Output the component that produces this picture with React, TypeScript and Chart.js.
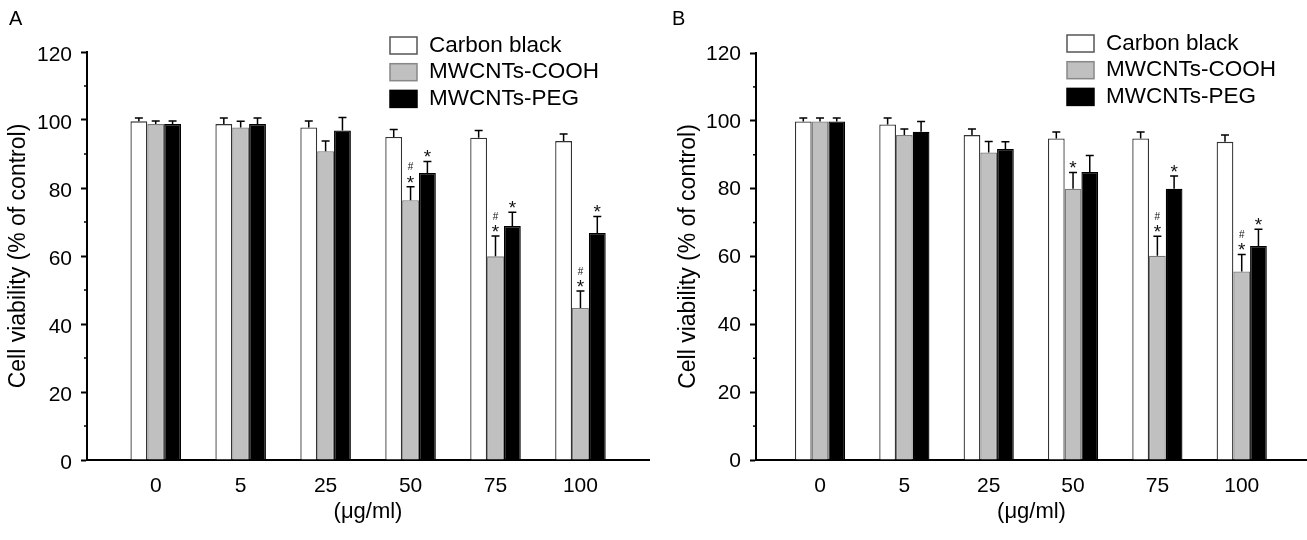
import React, { useEffect, useRef } from 'react';
import { Chart, registerables } from 'chart.js';

Chart.register(...registerables);

const FONT = "'Liberation Sans', Arial, Helvetica, sans-serif";

// ---- data ----
const categories = ['0', '5', '25', '50', '75', '100'];
const seriesNames = ['Carbon black', 'MWCNTs-COOH', 'MWCNTs-PEG'];
const yTickValues = [0, 10, 20, 30, 40, 50, 60, 70, 80, 90, 100, 110, 120];

// Panel A
const aCarbon = [99.6, 98.8, 97.8, 95.0, 94.8, 93.8];
const aCarbonErr = [1.0, 1.8, 1.9, 2.2, 2.1, 2.1];
const aCooh = [98.8, 97.8, 90.8, 76.4, 59.9, 44.7];
const aCoohErr = [0.9, 1.8, 3.0, 4.0, 6.0, 5.0];
const aPeg = [98.8, 98.8, 96.9, 84.4, 68.8, 66.8];
const aPegErr = [0.9, 1.8, 3.8, 3.4, 4.1, 4.8];
const aCoohSig = ['', '', '', '#*', '#*', '#*'];
const aPegSig = ['', '', '', '*', '*', '*'];

// Panel B
const bCarbon = [99.8, 98.9, 95.8, 94.8, 94.8, 93.8];
const bCarbonErr = [1.0, 1.9, 1.8, 1.9, 1.9, 2.0];
const bCooh = [99.8, 95.8, 90.7, 80.0, 60.2, 55.6];
const bCoohErr = [1.0, 1.8, 3.2, 4.8, 5.8, 5.0];
const bPeg = [99.8, 96.8, 91.7, 84.9, 80.0, 63.1];
const bPegErr = [1.0, 3.0, 2.1, 4.9, 3.7, 4.9];
const bCoohSig = ['', '', '', '*', '#*', '#*'];
const bPegSig = ['', '', '', '', '*', '*'];

type PanelSpec = {
  letter: string;
  left: number;
  width: number;
  padLeft: number;
  padRight: number;
  padTop: number;
  yWidth: number;
  xMin: number;
  xMax: number;
  labelOffset: number;
  legendX: number;
  legendY: number;
  letterX: number;
  carbon: number[]; carbonErr: number[];
  cooh: number[]; coohErr: number[]; coohSig: string[];
  peg: number[]; pegErr: number[]; pegSig: string[];
};

const panelA: PanelSpec = {
  letter: 'A', left: 0, width: 660, padLeft: 0, padRight: 11, padTop: 52, yWidth: 87,
  xMin: -0.809, xMax: 5.807, labelOffset: 3, legendX: 390, legendY: 37, letterX: 9,
  carbon: aCarbon, carbonErr: aCarbonErr, cooh: aCooh, coohErr: aCoohErr, coohSig: aCoohSig,
  peg: aPeg, pegErr: aPegErr, pegSig: aPegSig,
};

const panelB: PanelSpec = {
  letter: 'B', left: 660, width: 647, padLeft: 10, padRight: 0, padTop: 53, yWidth: 86,
  xMin: -0.759, xMax: 5.774, labelOffset: 1, legendX: 407, legendY: 35, letterX: 12,
  carbon: bCarbon, carbonErr: bCarbonErr, cooh: bCooh, coohErr: bCoohErr, coohSig: bCoohSig,
  peg: bPeg, pegErr: bPegErr, pegSig: bPegSig,
};

const seriesFill = ['#ffffff', '#c0c0c0', '#000000'];
const seriesBorder = ['#333333', '#7a7a7a', '#000000'];

function makeConfig(p: PanelSpec): any {
  const vals = [p.carbon, p.cooh, p.peg];
  const errs = [p.carbonErr, p.coohErr, p.pegErr];
  const sigs = [[], p.coohSig, p.pegSig];
  const datasets = vals.map((arr, d) => ({
    label: seriesNames[d],
    data: arr.map((v, i) => ({ x: i, y: v })),
    errors: errs[d],
    sig: sigs[d],
    backgroundColor: seriesFill[d],
    borderColor: seriesBorder[d],
    borderWidth: 1.3,
    borderSkipped: 'bottom',
    barPercentage: 1,
    categoryPercentage: 0.595,
  }));

  const extrasPlugin = {
    id: 'extras' + p.letter,
    afterDatasetsDraw(chart: any) {
      const ctx = chart.ctx;
      const yScale = chart.scales.y;
      chart.data.datasets.forEach((ds: any, d: number) => {
        const meta = chart.getDatasetMeta(d);
        meta.data.forEach((bar: any, i: number) => {
          const v = ds.data[i].y;
          const e = ds.errors[i];
          const yTop = yScale.getPixelForValue(v + e);
          ctx.save();
          ctx.strokeStyle = '#000';
          ctx.lineWidth = 1.5;
          ctx.beginPath();
          ctx.moveTo(bar.x, bar.y);
          ctx.lineTo(bar.x, yTop);
          ctx.moveTo(bar.x - 4, yTop);
          ctx.lineTo(bar.x + 4, yTop);
          ctx.stroke();
          const s = ds.sig[i] || '';
          ctx.fillStyle = '#111';
          ctx.textAlign = 'center';
          ctx.textBaseline = 'alphabetic';
          if (s.includes('*')) {
            ctx.font = `19px ${FONT}`;
            ctx.fillText('*', bar.x, yTop - 9 + 10.9);
          }
          if (s.includes('#')) {
            ctx.font = `10px ${FONT}`;
            ctx.fillText('#', bar.x, yTop - 20 + 3.6);
          }
          ctx.restore();
        });
      });
    },
    afterDraw(chart: any) {
      const ctx = chart.ctx;
      const yScale = chart.scales.y;
      ctx.save();
      // minor y ticks
      ctx.strokeStyle = '#000';
      ctx.lineWidth = 1.5;
      yScale.ticks.forEach((t: any) => {
        if (t.value % 20 !== 0) {
          const py = yScale.getPixelForValue(t.value);
          ctx.beginPath();
          ctx.moveTo(yScale.right - 3, py);
          ctx.lineTo(yScale.right, py);
          ctx.stroke();
        }
      });
      // legend
      const bw = 27, bh = 17, gap = 26.7;
      chart.data.datasets.forEach((ds: any, d: number) => {
        const by = p.legendY + d * gap;
        ctx.fillStyle = ds.backgroundColor;
        ctx.fillRect(p.legendX, by, bw, bh);
        ctx.strokeStyle = d === 0 ? '#555' : d === 1 ? '#888' : '#000';
        ctx.lineWidth = 1.5;
        ctx.strokeRect(p.legendX, by, bw, bh);
        ctx.fillStyle = '#000';
        ctx.font = `22.5px ${FONT}`;
        ctx.textAlign = 'left';
        ctx.textBaseline = 'middle';
        ctx.fillText(ds.label, p.legendX + 39, by + bh / 2);
      });
      // panel letter
      ctx.font = `20px ${FONT}`;
      ctx.textAlign = 'left';
      ctx.textBaseline = 'alphabetic';
      ctx.fillStyle = '#000';
      ctx.fillText(p.letter, p.letterX, 25);
      ctx.restore();
    },
  };

  return {
    type: 'bar',
    data: { datasets },
    options: {
      responsive: false,
      maintainAspectRatio: false,
      animation: false,
      events: [],
      devicePixelRatio: 1,
      layout: { padding: { left: p.padLeft, right: p.padRight, top: p.padTop, bottom: 0 } },
      plugins: { legend: { display: false }, tooltip: { enabled: false }, title: { display: false } },
      scales: {
        x: {
          type: 'linear',
          min: p.xMin,
          max: p.xMax,
          bounds: 'data',
          offset: false,
          afterBuildTicks: (s: any) => { s.ticks = categories.map((_, i) => ({ value: i })); },
          afterFit: (s: any) => { s.height = 80; },
          grid: { display: false, drawTicks: false },
          border: { display: true, color: '#000', width: 2 },
          ticks: {
            callback: (v: any) => categories[v] ?? '',
            font: { family: FONT, size: 21 },
            color: '#000',
            padding: 14,
            maxRotation: 0,
            autoSkip: false,
          },
          title: {
            display: true,
            text: '(\u03bcg/ml)',
            font: { family: FONT, size: 22 },
            color: '#000',
            padding: { top: 0, bottom: 15 },
          },
        },
        y: {
          type: 'linear',
          min: 0,
          max: 120,
          afterBuildTicks: (s: any) => { s.ticks = yTickValues.map((v) => ({ value: v })); },
          afterFit: (s: any) => { s.width = p.yWidth; },
          grid: {
            display: true,
            drawOnChartArea: false,
            drawTicks: true,
            tickLength: 6,
            tickWidth: 2,
            tickColor: (c: any) => (c.tick && c.tick.value % 20 === 0 ? '#000' : 'rgba(0,0,0,0)'),
          },
          border: { display: true, color: '#000', width: 2 },
          ticks: {
            callback: (v: any) => (v % 20 === 0 ? String(v) : ''),
            font: { family: FONT, size: 21 },
            color: '#000',
            padding: 9,
            labelOffset: p.labelOffset,
            autoSkip: false,
          },
          title: {
            display: true,
            text: 'Cell viability (% of control)',
            font: { family: FONT, size: 23 },
            color: '#000',
            padding: { top: 5, bottom: 0 },
          },
        },
      },
    },
    plugins: [extrasPlugin],
  };
}

function Panel({ spec }: { spec: PanelSpec }) {
  const ref = useRef<HTMLCanvasElement | null>(null);
  useEffect(() => {
    if (!ref.current) return;
    const chart = new Chart(ref.current, makeConfig(spec));
    return () => chart.destroy();
  }, [spec]);
  return (
    <canvas
      ref={ref}
      width={spec.width}
      height={540}
      style={{ position: 'absolute', left: spec.left, top: 0, width: spec.width, height: 540 }}
    />
  );
}

export default function App() {
  return (
    <div style={{ position: 'fixed', left: 0, top: 0, width: 1307, height: 540, background: '#ffffff', overflow: 'hidden' }}>
      <Panel spec={panelA} />
      <Panel spec={panelB} />
    </div>
  );
}
